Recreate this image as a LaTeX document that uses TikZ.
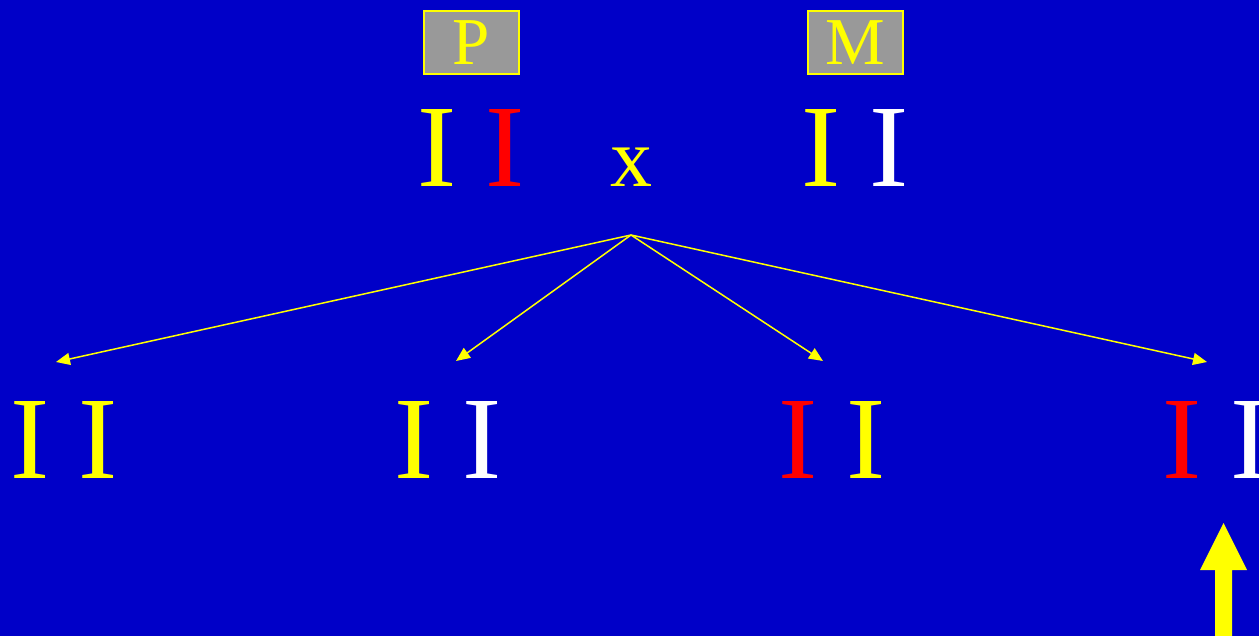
\documentclass[tikz,border=0pt]{standalone}
\usepackage{fontspec}
\setmainfont{Liberation Serif}
\usetikzlibrary{arrows.meta}
\definecolor{bgblue}{RGB}{0,0,200}
\definecolor{boxgray}{RGB}{153,153,153}
\definecolor{gold}{RGB}{255,255,0}
\definecolor{chrred}{RGB}{255,0,0}
\tikzset{
  allele/.style={inner sep=0pt, anchor=base, font=\fontsize{117.6}{120}\selectfont},
  parentbox/.style={draw=gold, fill=boxgray, line width=2pt, minimum width=95pt, minimum height=63pt, inner sep=0pt, text=gold, font=\fontsize{67}{70}\selectfont},
  cross/.style={inner sep=0pt, anchor=base, text=gold, font=\fontsize{84}{86}\selectfont},
  offspring/.style={draw=gold, line width=1.5pt, -{Triangle[length=14pt,width=12pt]}}
}
\begin{document}
\begin{tikzpicture}[x=1pt,y=-1pt]
\useasboundingbox (0,0) rectangle (1259,636);
\clip (0,0) rectangle (1259,636);
\fill[bgblue] (0,0) rectangle (1259,636);

% parent labels
\node[parentbox] (pbox) at (471.5,42.5) {P};
\node[parentbox] (mbox) at (855.5,42.5) {M};

% parental chromosomes
\node[allele, text=gold]    (p1) at (437,187) {I};
\node[allele, text=chrred]  (p2) at (505.5,187) {I};
\node[cross]                (x)  at (631,187) {x};
\node[allele, text=gold]    (m1) at (821.5,187) {I};
\node[allele, text=white]   (m2) at (889.5,187) {I};

% offspring combinations
\node[allele, text=gold]    (a1) at (30,478) {I};
\node[allele, text=gold]    (a2) at (98.5,478) {I};
\node[allele, text=gold]    (b1) at (414.5,478) {I};
\node[allele, text=white]   (b2) at (482.5,478) {I};
\node[allele, text=chrred]  (c1) at (798.5,478) {I};
\node[allele, text=gold]    (c2) at (866.5,478) {I};
\node[allele, text=chrred]  (d1) at (1182.5,478) {I};
\node[allele, text=white]   (d2) at (1250.5,478) {I};

% branching arrows
\coordinate (src) at (631,235);
\coordinate (ta) at (56,362);
\coordinate (tb) at (456,361);
\coordinate (tc) at (823,361);
\coordinate (td) at (1207,362);
\draw[offspring] (src) -- (ta);
\draw[offspring] (src) -- (tb);
\draw[offspring] (src) -- (tc);
\draw[offspring] (src) -- (td);

% pointer arrow
\fill[gold] (1215,640) -- (1215,570) -- (1200,570) -- (1223.5,523)
  -- (1247,570) -- (1232,570) -- (1232,640) -- cycle;
\end{tikzpicture}
\end{document}
